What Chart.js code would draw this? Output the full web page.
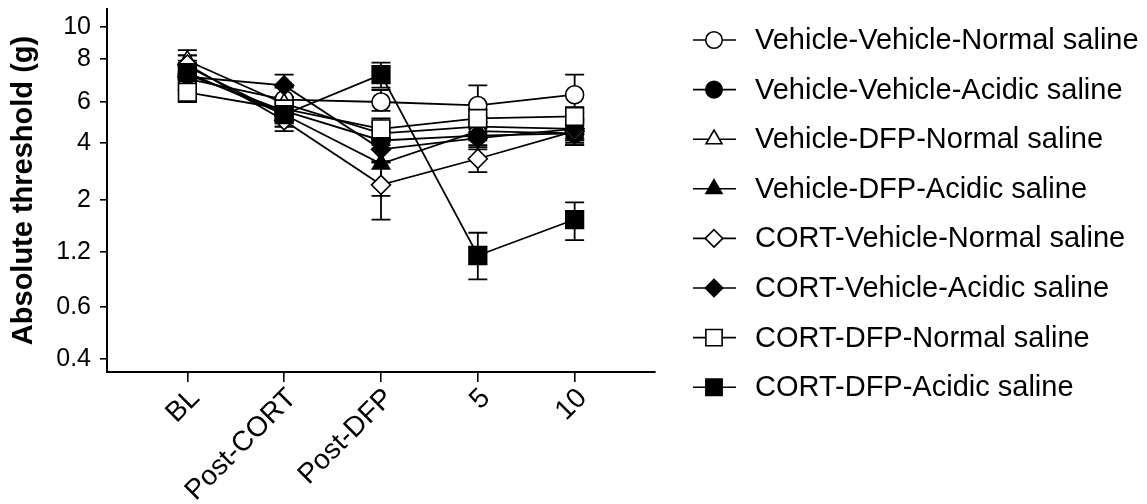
<!DOCTYPE html>
<html>
<head>
<meta charset="utf-8">
<script src="https://cdn.jsdelivr.net/npm/chart.js@4.4.1/dist/chart.umd.min.js"></script>
<style>
  html, body { margin: 0; padding: 0; background: #fff; }
  #wrap { width: 1147px; height: 504px; }
</style>
</head>
<body>
<div id="wrap"><canvas id="chart" width="1147" height="504"></canvas></div>
<script>
// time points on the x axis
const categories = ['BL', 'Post-CORT', 'Post-DFP', '5', '10'];

// y axis: filament labels (g) and their place on the filament (evaluator size) scale
const yTickGrams = [0.4, 0.6, 1.2, 2, 4, 6, 8, 10];
const yTickUnits = [3.61, 3.84, 4.08, 4.31, 4.56, 4.74, 4.93, 5.07];

const groupNames = [
    'Vehicle-Vehicle-Normal saline',
    'Vehicle-Vehicle-Acidic saline',
    'Vehicle-DFP-Normal saline',
    'Vehicle-DFP-Acidic saline',
    'CORT-Vehicle-Normal saline',
    'CORT-Vehicle-Acidic saline',
    'CORT-DFP-Normal saline',
    'CORT-DFP-Acidic saline'
];

// group means (g)
const vehVehNormal = [7.0, 6.1, 6.0, 5.8, 6.3];
const vehVehAcidic = [7.2, 5.5, 4.1, 4.3, 4.4];
const vehDfpNormal = [7.9, 5.9, 4.4, 4.7, 4.6];
const vehDfpAcidic = [7.6, 5.3, 3.1, 4.5, 4.4];
const cortVehNormal = [7.7, 5.0, 2.4, 3.3, 4.5];
const cortVehAcidic = [7.1, 6.7, 3.7, 4.2, 4.6];
const cortDfpNormal = [6.4, 5.6, 4.6, 5.1, 5.2];
const cortDfpAcidic = [7.3, 5.3, 7.2, 1.15, 1.65];

// SEM (g)
const vehVehNormalErr = [0.5, 0.6, 0.5, 0.9, 0.9];
const vehVehAcidicErr = [0.6, 0.5, 0.4, 0.4, 0.5];
const vehDfpNormalErr = [0.6, 0.7, 0.5, 0.5, 0.5];
const vehDfpAcidicErr = [0.6, 0.6, 1.0, 0.4, 0.5];
const cortVehNormalErr = [0.5, 0.5, 0.75, 0.5, 0.5];
const cortVehAcidicErr = [0.6, 0.5, 0.5, 0.5, 0.5];
const cortDfpNormalErr = [0.4, 0.6, 0.5, 0.5, 0.5];
const cortDfpAcidicErr = [0.6, 0.6, 0.6, 0.3, 0.3];

const means = [vehVehNormal, vehVehAcidic, vehDfpNormal, vehDfpAcidic,
               cortVehNormal, cortVehAcidic, cortDfpNormal, cortDfpAcidic];
const errors = [vehVehNormalErr, vehVehAcidicErr, vehDfpNormalErr, vehDfpAcidicErr,
                cortVehNormalErr, cortVehAcidicErr, cortDfpNormalErr, cortDfpAcidicErr];

// marker look per group: open / filled circle, triangle, diamond, square
const markers = [
    { style: 'circle', radius: 9, fill: '#fff' },
    { style: 'circle', radius: 9, fill: '#000' },
    { style: 'triangle', radius: 10, fill: '#fff' },
    { style: 'triangle', radius: 10, fill: '#000' },
    { style: 'rectRot', radius: 9.5, fill: '#fff' },
    { style: 'rectRot', radius: 9.5, fill: '#000' },
    { style: 'rect', radius: 12.5, fill: '#fff' },
    { style: 'rect', radius: 12.5, fill: '#000' }
];

// grams -> filament scale, log-interpolated between the labelled filaments
function toUnit(g) {
    const n = yTickGrams.length;
    let i = 0;
    while (i < n - 2 && g > yTickGrams[i + 1]) i++;
    const t = (Math.log(g) - Math.log(yTickGrams[i])) /
              (Math.log(yTickGrams[i + 1]) - Math.log(yTickGrams[i]));
    return yTickUnits[i] + t * (yTickUnits[i + 1] - yTickUnits[i]);
}

const FONT = '"Liberation Sans", Arial, Helvetica, sans-serif';

const datasets = means.map((vals, k) => ({
    label: groupNames[k],
    data: vals.map((v, i) => ({ x: i, y: toUnit(v) })),
    order: means.length - k,   // later groups sit on top, as in the figure
    borderColor: '#000',
    borderWidth: 1.8,
    backgroundColor: markers[k].fill,
    pointStyle: markers[k].style,
    pointRadius: markers[k].radius,
    pointBackgroundColor: markers[k].fill,
    pointBorderColor: '#000',
    pointBorderWidth: 1.6,
    showLine: true,
    tension: 0,
    clip: false
}));

// error bars (mean +/- SEM), drawn under the markers
const errorBars = {
    id: 'errorBars',
    beforeDatasetsDraw(chart) {
        const ctx = chart.ctx;
        const xs = chart.scales.x, ys = chart.scales.y;
        ctx.save();
        ctx.strokeStyle = '#000';
        ctx.lineWidth = 1.8;
        means.forEach((vals, k) => {
            vals.forEach((v, i) => {
                const e = errors[k][i];
                const px = xs.getPixelForValue(i);
                const top = ys.getPixelForValue(toUnit(v + e));
                const bot = ys.getPixelForValue(toUnit(v - e));
                ctx.beginPath();
                ctx.moveTo(px, top); ctx.lineTo(px, bot);
                ctx.moveTo(px - 9.5, top); ctx.lineTo(px + 9.5, top);
                ctx.moveTo(px - 9.5, bot); ctx.lineTo(px + 9.5, bot);
                ctx.stroke();
            });
        });
        ctx.restore();
    }
};

// legend on the right: short line through the marker, then the group name
const sideLegend = {
    id: 'sideLegend',
    afterDraw(chart) {
        const ctx = chart.ctx;
        ctx.save();
        groupNames.forEach((name, k) => {
            const y = 40 + k * 49.6;
            ctx.strokeStyle = '#000';
            ctx.lineWidth = 1.6;
            ctx.beginPath();
            ctx.moveTo(693, y); ctx.lineTo(736, y);
            ctx.stroke();
            ctx.fillStyle = markers[k].fill;
            Chart.helpers.drawPoint(ctx, {
                pointStyle: markers[k].style,
                radius: markers[k].radius * 0.92,
                rotation: 0,
                borderWidth: 1.6
            }, 714, y);
            ctx.fillStyle = '#000';
            ctx.font = '29px ' + FONT;
            ctx.textBaseline = 'middle';
            ctx.textAlign = 'left';
            ctx.fillText(name, 755, y + 1);
        });
        ctx.restore();
    }
};

new Chart(document.getElementById('chart'), {
    type: 'scatter',
    data: { datasets: datasets },
    options: {
        responsive: false,
        animation: false,
        events: [],
        layout: { autoPadding: false, padding: { left: 0, top: 9, right: 492, bottom: 0 } },
        plugins: { legend: { display: false }, tooltip: { enabled: false } },
        scales: {
            x: {
                type: 'linear',
                min: -0.83,
                max: 4.83,
                afterBuildTicks: (scale) => { scale.ticks = categories.map((c, i) => ({ value: i })); },
                afterFit: (scale) => { scale.height = 132; },
                ticks: {
                    callback: (v) => categories[v],
                    color: '#000',
                    font: { family: FONT, size: 28 },
                    minRotation: 45,
                    maxRotation: 45,
                    autoSkip: false,
                    labelOffset: 8,
                    padding: 0
                },
                grid: { display: true, drawOnChartArea: false, drawTicks: true, tickLength: 10, color: '#000', lineWidth: 1.6 },
                border: { display: true, color: '#000', width: 2 }
            },
            y: {
                type: 'linear',
                min: 3.553,
                max: 5.149,
                afterBuildTicks: (scale) => { scale.ticks = yTickUnits.map(v => ({ value: v })); },
                afterFit: (scale) => {
                    scale.width = 107;
                    scale.paddingTop = 0;
                    scale.paddingBottom = 0;
                },
                ticks: {
                    callback: (v, i) => String(yTickGrams[i]),
                    color: '#000',
                    font: { family: FONT, size: 25 },
                    padding: 9
                },
                grid: { display: true, drawOnChartArea: false, drawTicks: true, tickLength: 7, color: '#000', lineWidth: 1.6 },
                border: { display: true, color: '#000', width: 2 },
                title: {
                    display: true,
                    text: 'Absolute threshold (g)',
                    color: '#000',
                    font: { family: FONT, size: 29, weight: 'bold' },
                    padding: { top: 7, bottom: 0 }
                }
            }
        }
    },
    plugins: [errorBars, sideLegend]
});
</script>
</body>
</html>
